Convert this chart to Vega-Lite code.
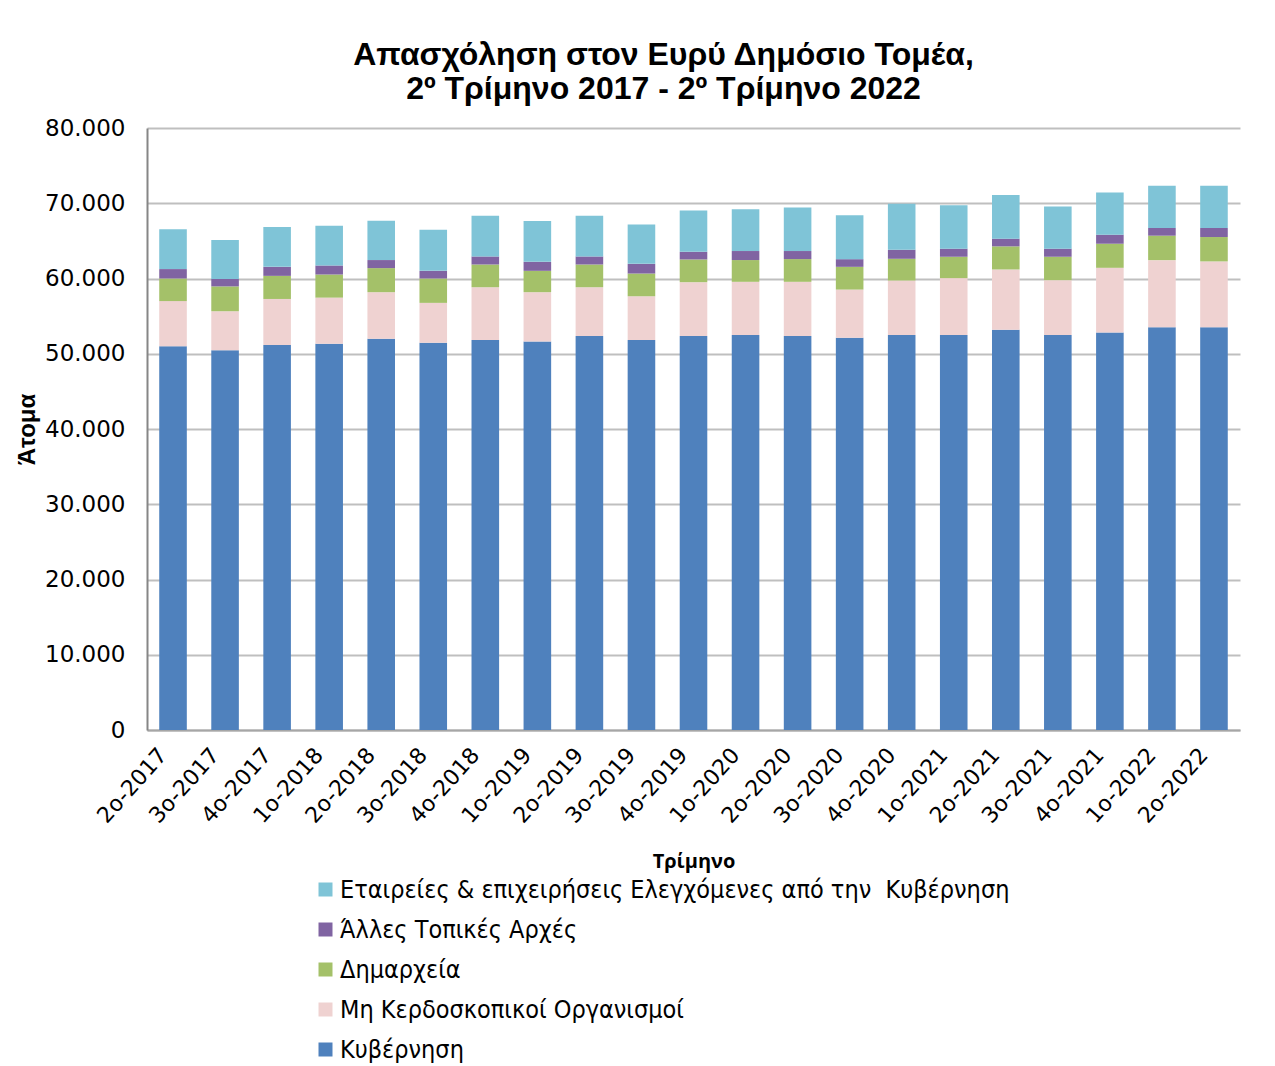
{
  "$schema": "https://vega.github.io/schema/vega-lite/v6.json",
  "autosize": {"type": "none"},
  "width": 1093,
  "height": 602,
  "padding": {"left": 147, "top": 128, "right": 35, "bottom": 336},
  "background": "white",
  "title": {
    "text": ["Απασχόληση στον Ευρύ Δημόσιο Τομέα,", "2º Τρίμηνο 2017 - 2º Τρίμηνο 2022"],
    "font": "Liberation Sans",
    "fontSize": 32,
    "fontWeight": "bold",
    "lineHeight": 34,
    "color": "#000000",
    "anchor": "middle",
    "dx": -30,
    "offset": 11
  },
  "datasets": {
    "wide": [
      {"q": "2o-2017", "a": 51000, "b": 6000, "c": 3000, "d": 1250, "e": 5300},
      {"q": "3o-2017", "a": 50450, "b": 5200, "c": 3300, "d": 1000, "e": 5150},
      {"q": "4o-2017", "a": 51150, "b": 6130, "c": 3070, "d": 1200, "e": 5290},
      {"q": "1o-2018", "a": 51330, "b": 6130, "c": 3070, "d": 1200, "e": 5290},
      {"q": "2o-2018", "a": 52000, "b": 6180, "c": 3200, "d": 1070, "e": 5240},
      {"q": "3o-2018", "a": 51470, "b": 5290, "c": 3240, "d": 1020, "e": 5470},
      {"q": "4o-2018", "a": 51820, "b": 7020, "c": 3020, "d": 1070, "e": 5420},
      {"q": "1o-2019", "a": 51640, "b": 6540, "c": 2840, "d": 1200, "e": 5420},
      {"q": "2o-2019", "a": 52360, "b": 6480, "c": 3020, "d": 1070, "e": 5420},
      {"q": "3o-2019", "a": 51820, "b": 5820, "c": 3020, "d": 1290, "e": 5240},
      {"q": "4o-2019", "a": 52360, "b": 7150, "c": 3020, "d": 1020, "e": 5470},
      {"q": "1o-2020", "a": 52490, "b": 7070, "c": 2890, "d": 1200, "e": 5560},
      {"q": "2o-2020", "a": 52360, "b": 7200, "c": 3020, "d": 1070, "e": 5780},
      {"q": "3o-2020", "a": 52130, "b": 6400, "c": 3020, "d": 1020, "e": 5820},
      {"q": "4o-2020", "a": 52490, "b": 7240, "c": 2890, "d": 1200, "e": 6130},
      {"q": "1o-2021", "a": 52490, "b": 7560, "c": 2840, "d": 1070, "e": 5780},
      {"q": "2o-2021", "a": 53200, "b": 8000, "c": 3070, "d": 1020, "e": 5820},
      {"q": "3o-2021", "a": 52490, "b": 7290, "c": 3110, "d": 1070, "e": 5600},
      {"q": "4o-2021", "a": 52840, "b": 8580, "c": 3200, "d": 1200, "e": 5600},
      {"q": "1o-2022", "a": 53510, "b": 8930, "c": 3250, "d": 1020, "e": 5600},
      {"q": "2o-2022", "a": 53510, "b": 8760, "c": 3240, "d": 1200, "e": 5600}
    ],
    "series": [
      {"key": "a", "s": "Κυβέρνηση", "k": 1},
      {"key": "b", "s": "Μη Κερδοσκοπικοί Οργανισμοί", "k": 2},
      {"key": "c", "s": "Δημαρχεία", "k": 3},
      {"key": "d", "s": "Άλλες Τοπικές Αρχές", "k": 4},
      {"key": "e", "s": "Εταιρείες & επιχειρήσεις Ελεγχόμενες από την\u00a0 Κυβέρνηση", "k": 5}
    ]
  },
  "data": {"name": "wide"},
  "transform": [
    {"fold": ["a", "b", "c", "d", "e"], "as": ["key", "v"]},
    {"lookup": "key", "from": {"data": {"name": "series"}, "key": "key", "fields": ["s", "k"]}}
  ],
  "mark": {"type": "bar"},
  "encoding": {
    "x": {
      "field": "q",
      "type": "nominal",
      "sort": null,
      "scale": {"paddingInner": 0.47, "paddingOuter": 0.235},
      "axis": {
        "title": "Τρίμηνο",
        "titleFont": "Open Sans",
        "titleFontSize": 20,
        "titleFontWeight": "bold",
        "titleColor": "#000000",
        "titlePadding": 25,
        "labelAngle": -48,
        "labelFont": "DejaVu Sans",
        "labelFontSize": 22,
        "labelColor": "#000000",
        "labelPadding": 21,
        "labelOffset": -10,
        "ticks": false,
        "tickSize": 0,
        "domainColor": "#A6A6A6",
        "domainWidth": 2,
        "grid": false
      }
    },
    "y": {
      "field": "v",
      "type": "quantitative",
      "stack": "zero",
      "scale": {"domain": [0, 80000], "nice": false},
      "axis": {
        "title": "Άτομα",
        "titleFont": "Liberation Sans",
        "titleFontSize": 24,
        "titleFontWeight": "bold",
        "titleColor": "#000000",
        "titlePadding": 5,
        "values": [0, 10000, 20000, 30000, 40000, 50000, 60000, 70000, 80000],
        "labelExpr": "replace(format(datum.value, ','), ',', '.')",
        "labelFont": "DejaVu Sans",
        "labelFontSize": 23,
        "labelColor": "#000000",
        "labelPadding": 22,
        "ticks": false,
        "tickSize": 0,
        "domainColor": "#868686",
        "domainWidth": 2,
        "gridColor": "#BFBFBF",
        "gridWidth": 2
      }
    },
    "color": {
      "field": "s",
      "type": "nominal",
      "scale": {
        "domain": ["Εταιρείες & επιχειρήσεις Ελεγχόμενες από την\u00a0 Κυβέρνηση", "Άλλες Τοπικές Αρχές", "Δημαρχεία", "Μη Κερδοσκοπικοί Οργανισμοί", "Κυβέρνηση"],
        "range": ["#7FC4D7", "#8064A2", "#A4C169", "#EFD2D1", "#4F81BD"]
      },
      "legend": {
        "title": null,
        "orient": "none",
        "legendX": 166,
        "legendY": 749,
        "direction": "vertical",
        "symbolType": "square",
        "symbolSize": 196,
        "symbolStrokeWidth": 0,
        "labelFont": "DejaVu Sans Condensed",
        "labelFontSize": 25,
        "labelColor": "#000000",
        "labelOffset": 2,
        "labelLimit": 0,
        "rowPadding": 14,
        "padding": 0
      }
    },
    "order": {"field": "k", "type": "quantitative", "sort": "ascending"}
  },
  "config": {
    "view": {"stroke": null},
    "axis": {"labelOverlap": false}
  }
}
